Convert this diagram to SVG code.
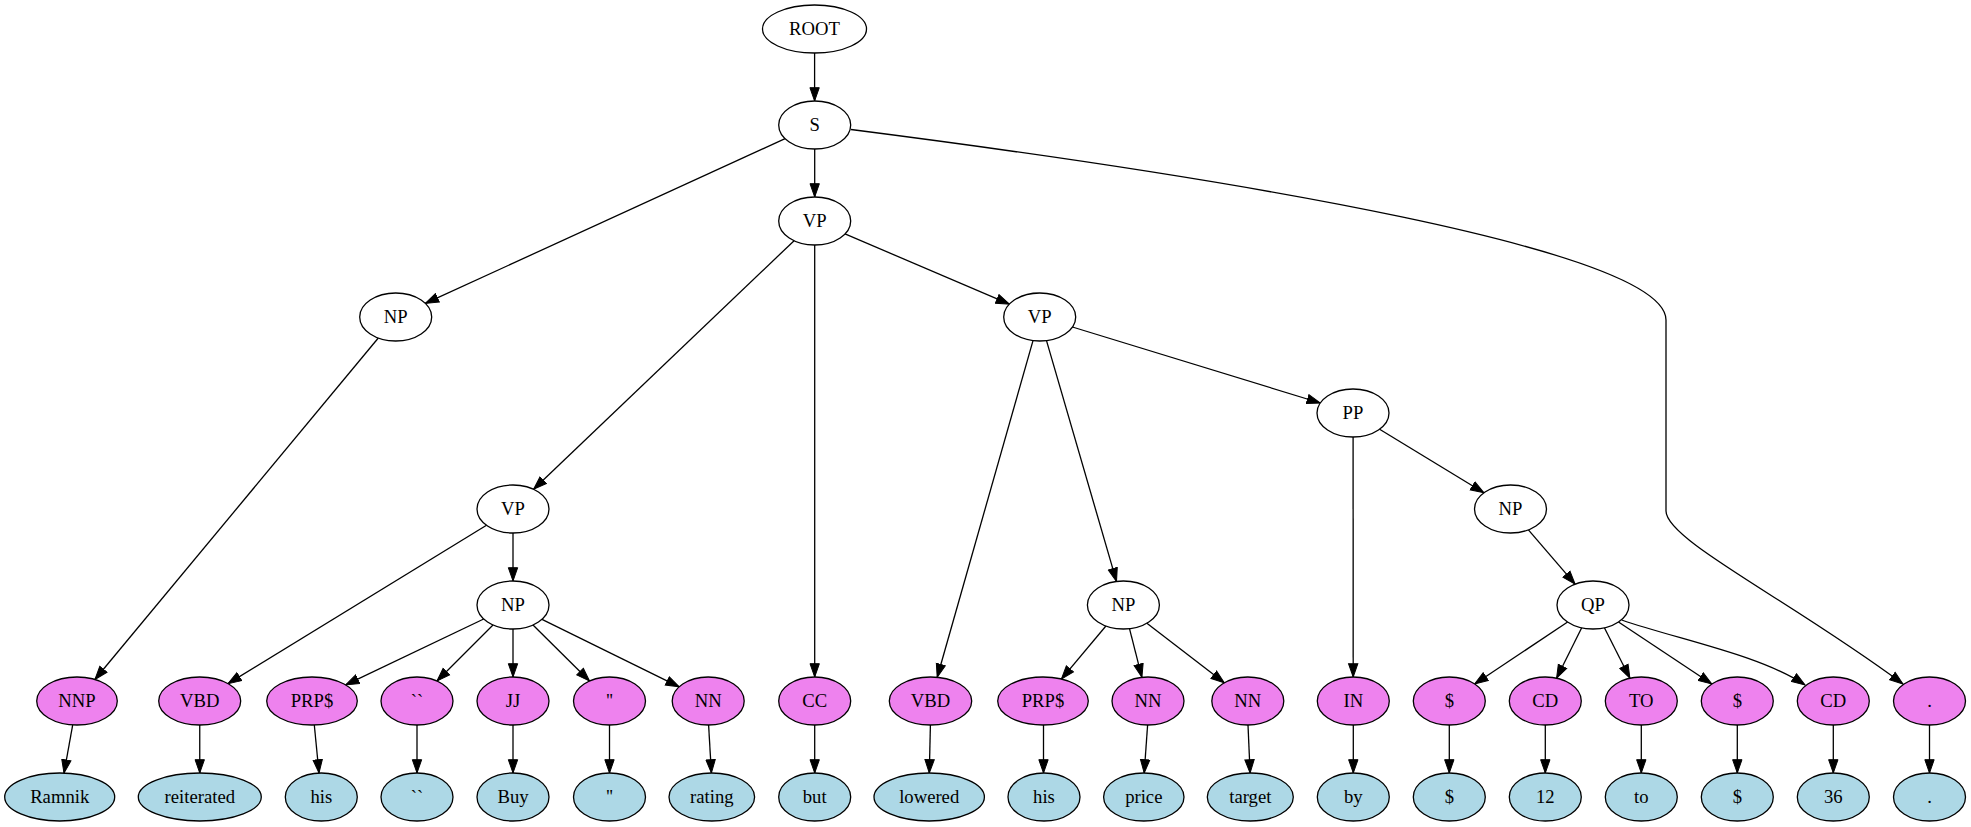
<svg xmlns="http://www.w3.org/2000/svg" width="1971" height="827" viewBox="0 0 1971 827">
<style>
ellipse{stroke:#000;stroke-width:1.3}
.ph{fill:#fff}
.pos{fill:#ee82ee}
.w{fill:#add8e6}
text{font-family:"Liberation Serif","Times New Roman",serif;font-size:18.67px;text-anchor:middle;fill:#000}
#edges path{fill:none;stroke:#000;stroke-width:1.3;marker-end:url(#ah)}
</style>
<defs>
<marker id="ah" markerUnits="userSpaceOnUse" markerWidth="15" markerHeight="12" viewBox="0 -6 14 12" refX="13.3" refY="0" orient="auto">
<path d="M0,-4.67 L13.33,0 L0,4.67 Z" fill="#000" stroke="#000" stroke-width="1"/>
</marker>
</defs>
<rect width="1971" height="827" fill="#fff"/>
<g id="edges">
<path d="M814.6,53 L814.6,101"/>
<path d="M785.1,138.6 L425.3,303.4"/>
<path d="M814.7,149 L814.7,197"/>
<path d="M851,129.5 C1230,178 1666,250 1666,320 L1666,511 C1666,540 1790,600 1903,684"/>
<path d="M794.1,240.7 L533.6,489.3"/>
<path d="M814.7,245 L814.7,677"/>
<path d="M845,233.9 L1009.4,304.1"/>
<path d="M378.3,338 L94.9,679.5"/>
<path d="M72.7,724.9 L64,773.1"/>
<path d="M486.5,525.2 L228,683.6"/>
<path d="M513,533 L513,581"/>
<path d="M483.7,619 L345.7,684.9"/>
<path d="M493,625 L437,681"/>
<path d="M513,629 L513,677"/>
<path d="M533,625 L589.5,681"/>
<path d="M542,619.3 L679.2,686.8"/>
<path d="M814.7,725 L814.7,773"/>
<path d="M1033,340.6 L937.2,677.3"/>
<path d="M1046.5,340.6 L1116.5,581.4"/>
<path d="M1072.4,327 L1320.3,403"/>
<path d="M1105.9,626 L1061.4,679.1"/>
<path d="M1129.5,628.7 L1141.9,677.3"/>
<path d="M1146.9,623.2 L1224.3,682.8"/>
<path d="M1353.1,437 L1353.2,677"/>
<path d="M1379.6,429.2 L1483.9,492.8"/>
<path d="M1528.4,529.8 L1575.1,584.2"/>
<path d="M1567.6,622 L1474.7,684"/>
<path d="M1581.7,627.8 L1556.6,678.2"/>
<path d="M1604.4,627.8 L1629.9,678.2"/>
<path d="M1618.5,622 L1711.8,684"/>
<path d="M1621.7,620 C1680,640 1760,655 1805,685"/>
<path d="M199.75,725 L199.75,773"/>
<path d="M314.3,725 L319,773"/>
<path d="M417,725 L417,773"/>
<path d="M513,725 L513,773"/>
<path d="M609.5,725 L609.5,773"/>
<path d="M708.6,725 L711.4,773"/>
<path d="M930.4,725 L929.3,773"/>
<path d="M1043.5,725 L1043.5,773"/>
<path d="M1147.6,725 L1144.2,773"/>
<path d="M1248,725 L1250.1,773"/>
<path d="M1353.3,725 L1353.3,773"/>
<path d="M1449.3,725 L1449.3,773"/>
<path d="M1545.3,725 L1545.3,773"/>
<path d="M1641.3,725 L1641.3,773"/>
<path d="M1737.3,725 L1737.3,773"/>
<path d="M1833.3,725 L1833.3,773"/>
<path d="M1929.5,725 L1929.5,773"/>
</g>
<g id="n_root"><ellipse class="ph" cx="814.5" cy="29" rx="52" ry="24"/><text x="814.5" y="35">ROOT</text></g>
<g id="n_s"><ellipse class="ph" cx="814.7" cy="125" rx="36" ry="24"/><text x="814.7" y="131">S</text></g>
<g id="n_vp1"><ellipse class="ph" cx="814.7" cy="221" rx="36" ry="24"/><text x="814.7" y="227">VP</text></g>
<g id="n_np1"><ellipse class="ph" cx="395.7" cy="317" rx="36" ry="24"/><text x="395.7" y="323">NP</text></g>
<g id="n_vp2"><ellipse class="ph" cx="1039.7" cy="317" rx="36" ry="24"/><text x="1039.7" y="323">VP</text></g>
<g id="n_pp"><ellipse class="ph" cx="1353" cy="413" rx="36" ry="24"/><text x="1353" y="419">PP</text></g>
<g id="n_vp3"><ellipse class="ph" cx="513" cy="509" rx="36" ry="24"/><text x="513" y="515">VP</text></g>
<g id="n_np2"><ellipse class="ph" cx="513" cy="605" rx="36" ry="24"/><text x="513" y="611">NP</text></g>
<g id="n_np4"><ellipse class="ph" cx="1510.5" cy="509" rx="36" ry="24"/><text x="1510.5" y="515">NP</text></g>
<g id="n_np3"><ellipse class="ph" cx="1123.4" cy="605" rx="36" ry="24"/><text x="1123.4" y="611">NP</text></g>
<g id="n_qp"><ellipse class="ph" cx="1593" cy="605" rx="36" ry="24"/><text x="1593" y="611">QP</text></g>
<g id="p_nnp"><ellipse class="pos" cx="77" cy="701" rx="40.3" ry="24"/><text x="77" y="707">NNP</text></g>
<g id="p_vbd1"><ellipse class="pos" cx="199.7" cy="701" rx="41" ry="24"/><text x="199.7" y="707">VBD</text></g>
<g id="p_prp1"><ellipse class="pos" cx="312" cy="701" rx="45.3" ry="24"/><text x="312" y="707">PRP$</text></g>
<g id="p_oq"><ellipse class="pos" cx="417" cy="701" rx="36" ry="24"/><text x="417" y="707">``</text></g>
<g id="p_jj"><ellipse class="pos" cx="513" cy="701" rx="36" ry="24"/><text x="513" y="707">JJ</text></g>
<g id="p_cq"><ellipse class="pos" cx="609.5" cy="701" rx="36" ry="24"/><text x="609.5" y="707">''</text></g>
<g id="p_nn1"><ellipse class="pos" cx="708.2" cy="701" rx="36" ry="24"/><text x="708.2" y="707">NN</text></g>
<g id="p_cc"><ellipse class="pos" cx="814.7" cy="701" rx="36" ry="24"/><text x="814.7" y="707">CC</text></g>
<g id="p_vbd2"><ellipse class="pos" cx="930.5" cy="701" rx="41.2" ry="24"/><text x="930.5" y="707">VBD</text></g>
<g id="p_prp2"><ellipse class="pos" cx="1043" cy="701" rx="45.3" ry="24"/><text x="1043" y="707">PRP$</text></g>
<g id="p_nn2"><ellipse class="pos" cx="1148" cy="701" rx="36" ry="24"/><text x="1148" y="707">NN</text></g>
<g id="p_nn3"><ellipse class="pos" cx="1247.8" cy="701" rx="36" ry="24"/><text x="1247.8" y="707">NN</text></g>
<g id="p_in"><ellipse class="pos" cx="1353.3" cy="701" rx="36" ry="24"/><text x="1353.3" y="707">IN</text></g>
<g id="p_d1"><ellipse class="pos" cx="1449.3" cy="701" rx="36" ry="24"/><text x="1449.3" y="707">$</text></g>
<g id="p_cd1"><ellipse class="pos" cx="1545.3" cy="701" rx="36" ry="24"/><text x="1545.3" y="707">CD</text></g>
<g id="p_to"><ellipse class="pos" cx="1641.3" cy="701" rx="36" ry="24"/><text x="1641.3" y="707">TO</text></g>
<g id="p_d2"><ellipse class="pos" cx="1737.3" cy="701" rx="36" ry="24"/><text x="1737.3" y="707">$</text></g>
<g id="p_cd2"><ellipse class="pos" cx="1833.3" cy="701" rx="36" ry="24"/><text x="1833.3" y="707">CD</text></g>
<g id="p_dot"><ellipse class="pos" cx="1929.5" cy="701" rx="36" ry="24"/><text x="1929.5" y="707">.</text></g>
<g id="w_ramnik"><ellipse class="w" cx="59.7" cy="797" rx="55" ry="24"/><text x="59.7" y="803">Ramnik</text></g>
<g id="w_reiterated"><ellipse class="w" cx="199.8" cy="797" rx="61.5" ry="24"/><text x="199.8" y="803">reiterated</text></g>
<g id="w_his1"><ellipse class="w" cx="321.3" cy="797" rx="36" ry="24"/><text x="321.3" y="803">his</text></g>
<g id="w_oq"><ellipse class="w" cx="417" cy="797" rx="36" ry="24"/><text x="417" y="803">``</text></g>
<g id="w_buy"><ellipse class="w" cx="513" cy="797" rx="36" ry="24"/><text x="513" y="803">Buy</text></g>
<g id="w_cq"><ellipse class="w" cx="609.5" cy="797" rx="36" ry="24"/><text x="609.5" y="803">''</text></g>
<g id="w_rating"><ellipse class="w" cx="711.8" cy="797" rx="42.8" ry="24"/><text x="711.8" y="803">rating</text></g>
<g id="w_but"><ellipse class="w" cx="814.7" cy="797" rx="36" ry="24"/><text x="814.7" y="803">but</text></g>
<g id="w_lowered"><ellipse class="w" cx="929.2" cy="797" rx="55.2" ry="24"/><text x="929.2" y="803">lowered</text></g>
<g id="w_his2"><ellipse class="w" cx="1044" cy="797" rx="36" ry="24"/><text x="1044" y="803">his</text></g>
<g id="w_price"><ellipse class="w" cx="1143.8" cy="797" rx="40.2" ry="24"/><text x="1143.8" y="803">price</text></g>
<g id="w_target"><ellipse class="w" cx="1250.3" cy="797" rx="43" ry="24"/><text x="1250.3" y="803">target</text></g>
<g id="w_by"><ellipse class="w" cx="1353.3" cy="797" rx="36" ry="24"/><text x="1353.3" y="803">by</text></g>
<g id="w_d1"><ellipse class="w" cx="1449.3" cy="797" rx="36" ry="24"/><text x="1449.3" y="803">$</text></g>
<g id="w_12"><ellipse class="w" cx="1545.3" cy="797" rx="36" ry="24"/><text x="1545.3" y="803">12</text></g>
<g id="w_to"><ellipse class="w" cx="1641.3" cy="797" rx="36" ry="24"/><text x="1641.3" y="803">to</text></g>
<g id="w_d2"><ellipse class="w" cx="1737.3" cy="797" rx="36" ry="24"/><text x="1737.3" y="803">$</text></g>
<g id="w_36"><ellipse class="w" cx="1833.3" cy="797" rx="36" ry="24"/><text x="1833.3" y="803">36</text></g>
<g id="w_dot"><ellipse class="w" cx="1929.5" cy="797" rx="36" ry="24"/><text x="1929.5" y="803">.</text></g>
</svg>
